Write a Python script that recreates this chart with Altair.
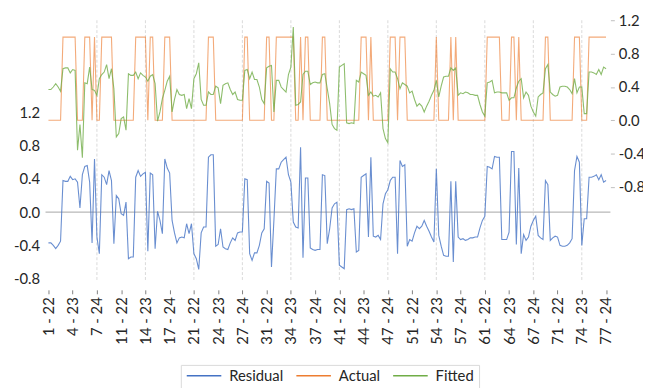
import json
import altair as alt
import pandas as pd

# ---------------- data ----------------
obs = list(range(231))

actual = [
    0, 0, 0, 0, 0, 0, 1, 1, 1, 1,
    1, 1, 0, 0, 0, 1, 1, 1, 0, 1,
    0, 0, 1, 1, 1, 1, 1, 0, 0, 0,
    0, 0, 0, 0, 0, 0, 1, 1, 1, 1,
    1, 0, 1, 1, 0, 0, 0, 0, 1, 1,
    1, 0, 0, 0, 0, 0, 0, 0, 0, 0,
    0, 0, 0, 0, 0, 0, 1, 1, 1, 0,
    0, 0, 0, 0, 0, 0, 0, 0, 0, 0,
    0, 1, 1, 0, 0, 0, 0, 0, 0, 0,
    1, 1, 0, 0, 1, 1, 1, 1, 1, 1,
    1, 1, 0, 0, 1, 0, 1, 1, 0, 0,
    0, 0, 0, 1, 1, 0, 0, 0, 0, 0,
    0, 0, 0, 0, 0, 0, 0, 0, 0, 1,
    1, 1, 0, 1, 0, 0, 0, 0, 0, 0,
    0, 1, 1, 1, 0, 1, 1, 1, 0, 0,
    0, 0, 0, 0, 0, 0, 0, 0, 0, 0,
    1, 0, 0, 0, 0, 0, 1, 0, 1, 0,
    0, 0, 0, 0, 0, 0, 0, 0, 0, 0,
    0, 1, 1, 1, 1, 1, 1, 0, 0, 0,
    0, 1, 1, 0, 1, 0, 0, 0, 0, 0,
    0, 0, 0, 0, 0, 1, 1, 0, 0, 0,
    0, 0, 0, 0, 0, 0, 0, 1, 1, 1,
    0, 0, 0, 1, 1, 1, 1, 1, 1, 1, 1,
]

residual = [
    -0.37, -0.37, -0.40, -0.44, -0.40, -0.35, 0.38, 0.37, 0.37, 0.43,
    0.39, 0.40, 0.36, 0.05, 0.45, 0.55, 0.56, 0.36, -0.37, 0.64,
    -0.30, -0.50, 0.45, 0.42, 0.33, 0.50, 0.38, -0.38, 0.20, 0.16,
    -0.02, -0.04, 0.12, -0.56, -0.54, -0.54, 0.42, 0.50, 0.43, 0.46,
    0.48, -0.47, 0.47, 0.45, -0.44, 0.01, -0.10, -0.26, 0.64, 0.53,
    0.47, -0.10, -0.25, -0.37, -0.31, -0.30, -0.31, -0.14, -0.26, -0.14,
    -0.50, -0.56, -0.69, -0.25, -0.18, -0.18, 0.66, 0.69, 0.69, -0.41,
    -0.39, -0.20, -0.42, -0.44, -0.45, -0.37, -0.31, -0.34, -0.25, -0.24,
    -0.24, 0.40, 0.39, -0.50, -0.58, -0.49, -0.49, -0.40, -0.25, -0.20,
    0.37, 0.35, -0.66, -0.10, 0.52, 0.52, 0.60, 0.63, 0.66, 0.45,
    0.36, -0.12, -0.18, -0.19, 0.78, -0.55, 0.41, 0.41, -0.43, -0.45,
    -0.46, -0.45, -0.45, 0.45, 0.44, -0.38, -0.20, 0.05, 0.10, 0.12,
    -0.64, -0.66, -0.68, 0.03, 0.04, 0.03, 0.04, -0.48, -0.46, 0.42,
    0.44, 0.46, -0.30, 0.66, -0.29, -0.30, -0.28, -0.33, 0.10, 0.22,
    0.27, 0.38, 0.42, 0.42, -0.50, 0.62, 0.55, 0.57, -0.41, -0.33,
    -0.35, -0.25, -0.17, -0.20, -0.17, -0.10, -0.17, -0.23, -0.30, -0.36,
    0.52, -0.28, -0.41, -0.52, -0.53, -0.53, 0.37, -0.60, 0.37, -0.30,
    -0.33, -0.32, -0.34, -0.33, -0.31, -0.31, -0.30, -0.30, -0.19, -0.10,
    -0.05, 0.55, 0.54, 0.52, 0.67, 0.66, 0.66, -0.33, -0.33, -0.33,
    -0.24, 0.73, 0.73, -0.39, 0.53, -0.50, -0.27, -0.34, -0.30, -0.17,
    -0.10, -0.05, -0.28, -0.31, -0.33, 0.38, 0.33, -0.34, -0.31, -0.29,
    -0.30, -0.40, -0.41, -0.41, -0.40, -0.37, -0.32, 0.50, 0.67, 0.60,
    -0.40, -0.08, -0.08, 0.42, 0.42, 0.43, 0.45, 0.39, 0.45, 0.36, 0.38,
]

fitted = [
    0.37, 0.37, 0.40, 0.44, 0.40, 0.35, 0.62, 0.63, 0.63, 0.57,
    0.61, 0.60, -0.36, -0.05, -0.45, 0.45, 0.44, 0.64, 0.37, 0.36,
    0.30, 0.50, 0.55, 0.58, 0.67, 0.50, 0.62, 0.38, -0.20, -0.16,
    0.02, 0.04, -0.12, 0.56, 0.54, 0.54, 0.58, 0.50, 0.57, 0.54,
    0.52, 0.47, 0.53, 0.55, 0.44, -0.01, 0.10, 0.26, 0.36, 0.47,
    0.53, 0.10, 0.25, 0.37, 0.31, 0.30, 0.31, 0.14, 0.26, 0.14,
    0.50, 0.56, 0.69, 0.25, 0.18, 0.18, 0.34, 0.31, 0.31, 0.41,
    0.39, 0.20, 0.42, 0.44, 0.45, 0.37, 0.31, 0.34, 0.25, 0.24,
    0.24, 0.60, 0.61, 0.50, 0.58, 0.49, 0.49, 0.40, 0.25, 0.20,
    0.63, 0.65, 0.66, 0.10, 0.48, 0.48, 0.40, 0.37, 0.34, 0.55,
    0.64, 1.12, 0.18, 0.19, 0.22, 0.55, 0.59, 0.59, 0.43, 0.45,
    0.46, 0.45, 0.45, 0.55, 0.56, 0.38, 0.20, -0.05, -0.10, -0.12,
    0.64, 0.66, 0.68, -0.03, -0.04, -0.03, -0.04, 0.48, 0.46, 0.58,
    0.56, 0.54, 0.30, 0.34, 0.29, 0.30, 0.28, 0.33, -0.10, -0.22,
    -0.27, 0.62, 0.58, 0.58, 0.50, 0.38, 0.45, 0.43, 0.41, 0.33,
    0.35, 0.25, 0.17, 0.20, 0.17, 0.10, 0.17, 0.23, 0.30, 0.36,
    0.48, 0.28, 0.41, 0.52, 0.53, 0.53, 0.63, 0.60, 0.63, 0.30,
    0.33, 0.32, 0.34, 0.33, 0.31, 0.31, 0.30, 0.30, 0.19, 0.10,
    0.05, 0.45, 0.46, 0.48, 0.33, 0.34, 0.34, 0.33, 0.33, 0.33,
    0.24, 0.27, 0.27, 0.39, 0.47, 0.50, 0.27, 0.34, 0.30, 0.17,
    0.10, 0.05, 0.28, 0.31, 0.33, 0.62, 0.67, 0.34, 0.31, 0.29,
    0.30, 0.40, 0.41, 0.41, 0.40, 0.37, 0.32, 0.50, 0.33, 0.40,
    0.40, 0.08, 0.08, 0.58, 0.58, 0.57, 0.55, 0.61, 0.55, 0.64, 0.62,
]

tick_obs = list(range(0, 231, 10))
tick_labels = [
    "1 - 22", "4 - 23", "7 - 24", "11 - 22", "14 - 23", "17 - 24",
    "21 - 22", "24 - 23", "27 - 24", "31 - 22", "34 - 23", "37 - 24",
    "41 - 22", "44 - 23", "47 - 24", "51 - 22", "54 - 23", "57 - 24",
    "61 - 22", "64 - 23", "67 - 24", "71 - 22", "74 - 23", "77 - 24",
]
grid_obs = list(range(20, 221, 20))
y_ticks = [-0.8, -0.4, 0.0, 0.4, 0.8, 1.2]
series_names = ["Residual", "Actual", "Fitted"]
series_colors = ["#4472C4", "#ED7D31", "#70AD47"]

# ---------------- layout ----------------
W, H = 572, 265
FONT = "Lato"
TXT = "#262626"
LW = 1.1
LOP = 0.8

x_scale = alt.Scale(domain=[-1.2, 231.8], nice=False, zero=False)
left_scale = alt.Scale(domain=[-0.84, 2.308], nice=False, zero=False)
right_scale = alt.Scale(domain=[-1.944, 1.203], nice=False, zero=False)
color_scale = alt.Scale(domain=series_names, range=series_colors)

num_expr = "datum.value < 0 ? '-' + format(-datum.value, '.1f') : format(datum.value, '.1f')"

x_axis = alt.Axis(
    values=tick_obs,
    labelExpr=json.dumps(tick_labels) + "[round(datum.value / 10)]",
    labelAngle=270, labelOverlap=False, grid=False, domain=False,
    ticks=True, tickSize=4, tickColor="#808080", offset=8, labelPadding=3,
    labelFont=FONT, labelFontSize=15, labelColor=TXT, title=None,
)
left_axis = alt.Axis(
    orient="left", values=y_ticks, labelExpr=num_expr, grid=False,
    domain=False, ticks=False, labelPadding=6, labelFont=FONT,
    labelFontSize=15, labelColor=TXT, title=None,
)
right_axis = alt.Axis(
    orient="right", values=y_ticks, labelExpr=num_expr, grid=False,
    domain=False, ticks=True, tickSize=4, tickColor="#bfbfbf",
    labelPadding=4, labelFont=FONT, labelFontSize=15, labelColor=TXT,
    title=None,
)
legend = alt.Legend(
    orient="none", legendX=137, legendY=349, direction="horizontal",
    title=None, symbolType="stroke", symbolSize=1225, symbolStrokeWidth=1.3,
    clipHeight=12,
    labelFont=FONT, labelFontSize=15, labelColor=TXT, labelOffset=7,
    columnPadding=12, padding=5, strokeColor="#d9d9d9", fillColor="white",
)

x_enc = alt.X("obs:Q", scale=x_scale, axis=x_axis)
color_enc = alt.Color("series:N", scale=color_scale, legend=legend)

res_df = pd.DataFrame({"obs": obs, "value": residual, "series": "Residual"})
act_df = pd.DataFrame({"obs": obs, "value": actual, "series": "Actual"})
fit_df = pd.DataFrame({"obs": obs, "value": fitted, "series": "Fitted"})

grid = alt.Chart(pd.DataFrame({"obs": grid_obs})).mark_rule(
    color="#d9d9d9", strokeDash=[3, 2], strokeWidth=1
).encode(x=x_enc, y=alt.value(0), y2=alt.value(H))

zero = alt.Chart(pd.DataFrame({"z": [0.0]})).mark_rule(
    color="#a6a6a6", strokeWidth=1
).encode(y=alt.Y("z:Q", scale=left_scale, axis=left_axis),
         x=alt.value(0), x2=alt.value(W))

res_line = alt.Chart(res_df).mark_line(strokeWidth=LW, strokeOpacity=LOP).encode(
    x=x_enc, y=alt.Y("value:Q", scale=left_scale, axis=left_axis),
    color=color_enc,
)

act_line = alt.Chart(act_df).mark_line(strokeWidth=LW, strokeOpacity=0.65).encode(
    x=x_enc, y=alt.Y("value:Q", scale=right_scale, axis=right_axis),
    color=color_enc,
)
fit_line = alt.Chart(fit_df).mark_line(strokeWidth=LW, strokeOpacity=LOP).encode(
    x=x_enc, y=alt.Y("value:Q", scale=right_scale, axis=right_axis),
    color=color_enc,
)

left_layer = alt.layer(grid, zero, res_line)
right_layer = alt.layer(act_line, fit_line)

chart = (
    alt.layer(left_layer, right_layer)
    .resolve_scale(y="independent")
    .properties(
        width=W, height=H,
        autosize=alt.AutoSizeParams(type="none"),
        padding={"left": 38, "top": 10, "right": 33, "bottom": 105},
        background="white",
    )
    .configure_view(strokeWidth=0)
)

chart.save("out.html", embed_options={"renderer": "svg", "actions": False})
